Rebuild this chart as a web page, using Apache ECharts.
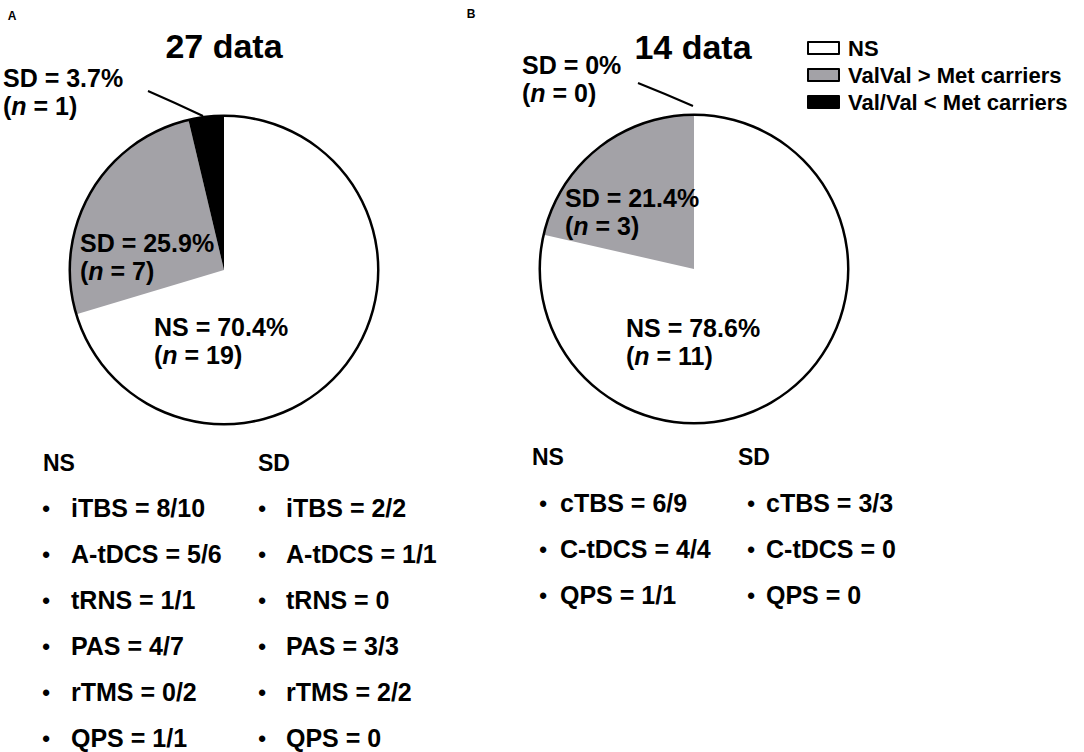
<!DOCTYPE html>
<html>
<head>
<meta charset="utf-8">
<script src="https://cdn.jsdelivr.net/npm/echarts@6/dist/echarts.min.js"></script>
<style>
  html, body { margin: 0; padding: 0; background: #fff; }
  #main { width: 1084px; height: 752px; }
</style>
</head>
<body>
<div id="main"></div>
<script>
// slices (same order in both pies, drawn clockwise from 12 o'clock)
var sliceNames = ['NS', 'ValVal > Met carriers', 'Val/Val < Met carriers'];
var sliceColors = ['#ffffff', '#a3a2a7', '#000000'];
var labelPrefix = ['NS', 'SD', 'SD'];

// panel A / B counts
var countsA = [19, 7, 1];
var countsB = [11, 3, 0];
var titles = ['27 data', '14 data'];
var panelLetters = ['A', 'B'];

// text lists under the pies
var listHeads = ['NS', 'SD'];
var listA_ns = ['iTBS = 8/10', 'A-tDCS = 5/6', 'tRNS = 1/1', 'PAS = 4/7', 'rTMS = 0/2', 'QPS = 1/1'];
var listA_sd = ['iTBS = 2/2', 'A-tDCS = 1/1', 'tRNS = 0', 'PAS = 3/3', 'rTMS = 2/2', 'QPS = 0'];
var listB_ns = ['cTBS = 6/9', 'C-tDCS = 4/4', 'QPS = 1/1'];
var listB_sd = ['cTBS = 3/3', 'C-tDCS = 0', 'QPS = 0'];

var FONT = '"Liberation Sans", Arial, sans-serif';

// where the labels sit (left x, middle y) per slice, and leader lines
var labelSpots = [
  [[154, 341], [80, 257], [3, 92]],
  [[626, 342], [565, 212], [522, 79]]
];
var leaderLines = [
  [[203, 116], [175, 103], [148, 91]],
  [[693, 106], [665, 94], [638, 83]]
];

var pieCenters = [[224, 270], [694, 269]];
var pieRadius = 154;

function makeData(counts) {
  var out = [];
  for (var i = 0; i < counts.length; i++) {
    var item = {
      name: sliceNames[i],
      value: counts[i],
      itemStyle: { color: sliceColors[i] }
    };
    if (i == 2) {
      item.label = { position: 'outside' };
      item.labelLine = { show: true };
    }
    out.push(item);
  }
  return out;
}

function pieSeries(idx, counts) {
  return {
    type: 'pie',
    center: pieCenters[idx],
    radius: [0, pieRadius],
    startAngle: 90,
    clockwise: true,
    avoidLabelOverlap: false,
    percentPrecision: 1,
    silent: true,
    itemStyle: { borderWidth: 0 },
    label: {
      show: true,
      position: 'inside',
      color: '#000',
      formatter: function (p) {
        return '{b|' + labelPrefix[p.dataIndex] + ' = ' + p.percent + '%}\n' +
               '{b|(}{i|n}{b| = ' + p.value + ')}';
      },
      rich: {
        b: { fontFamily: FONT, fontWeight: 'bold', fontSize: 25, lineHeight: 28, color: '#000' },
        i: { fontFamily: FONT, fontWeight: 'bold', fontStyle: 'italic', fontSize: 25, lineHeight: 28, color: '#000' }
      }
    },
    labelLine: {
      show: false,
      lineStyle: { color: '#000', width: 2 }
    },
    labelLayout: function (params) {
      var spot = labelSpots[idx][params.dataIndex];
      var res = { x: spot[0], y: spot[1], align: 'left', verticalAlign: 'middle' };
      if (params.dataIndex == 2) {
        res.labelLinePoints = leaderLines[idx];
      }
      return res;
    },
    data: makeData(counts)
  };
}

// black outline round each pie
function outlineSeries(idx) {
  return {
    type: 'pie',
    center: pieCenters[idx],
    radius: [pieRadius - 1, pieRadius + 1.5],
    silent: true,
    label: { show: false },
    labelLine: { show: false },
    itemStyle: { color: '#000' },
    data: [{ value: 1, name: 'outline' }]
  };
}

function listGraphics(x0, heads, colNs, colSd, headY, rowY, bulletDx, textDx, sdDx) {
  var els = [];
  var cols = [colNs, colSd];
  for (var c = 0; c < 2; c++) {
    var hx = x0 + c * sdDx;
    els.push({
      type: 'text',
      style: { text: heads[c], x: hx, y: headY, fill: '#000', font: 'bold 23px ' + FONT, verticalAlign: 'middle' }
    });
    for (var r = 0; r < cols[c].length; r++) {
      var y = rowY + r * 46;
      els.push({
        type: 'text',
        style: { text: '\u2022', x: hx + bulletDx[c], y: y, fill: '#000', font: 'bold 22px ' + FONT, align: 'center', verticalAlign: 'middle' }
      });
      els.push({
        type: 'text',
        style: { text: cols[c][r], x: hx + textDx, y: y, fill: '#000', font: 'bold 25px ' + FONT, verticalAlign: 'middle' }
      });
    }
  }
  return els;
}

var graphics = [];
graphics.push({ type: 'text', style: { text: panelLetters[0], x: 12, y: 16, fill: '#000', font: 'bold 12px ' + FONT, align: 'center', verticalAlign: 'middle' } });
graphics.push({ type: 'text', style: { text: panelLetters[1], x: 471, y: 14, fill: '#000', font: 'bold 12px ' + FONT, align: 'center', verticalAlign: 'middle' } });
graphics = graphics.concat(listGraphics(43, listHeads, listA_ns, listA_sd, 463, 508, [3, 4], 28, 215));
graphics = graphics.concat(listGraphics(532, listHeads, listB_ns, listB_sd, 457, 503, [11, 13], 28, 206));

var myChart = echarts.init(document.getElementById('main'), null, { renderer: 'svg' });

var option = {
  backgroundColor: '#fff',
  animation: false,
  title: [
    { text: titles[0], left: 219, top: 24, textAlign: 'center',
      textStyle: { fontFamily: FONT, fontWeight: 'bold', fontSize: 34, color: '#000' } },
    { text: titles[1], left: 688, top: 25, textAlign: 'center',
      textStyle: { fontFamily: FONT, fontWeight: 'bold', fontSize: 34, color: '#000' } }
  ],
  legend: {
    orient: 'vertical',
    left: 802,
    top: 32,
    itemWidth: 31,
    itemHeight: 12,
    itemGap: 5,
    selectedMode: false,
    icon: 'rect',
    textStyle: { fontFamily: FONT, fontWeight: 'bold', fontSize: 22, color: '#000', padding: [0, 0, 0, 4] },
    data: [
      { name: sliceNames[0], itemStyle: { color: sliceColors[0], borderColor: '#000', borderWidth: 2 } },
      { name: sliceNames[1], itemStyle: { color: sliceColors[1], borderColor: '#000', borderWidth: 2 } },
      { name: sliceNames[2], itemStyle: { color: sliceColors[2], borderColor: '#000', borderWidth: 2 } }
    ]
  },
  graphic: graphics,
  series: [
    pieSeries(0, countsA),
    outlineSeries(0),
    pieSeries(1, countsB),
    outlineSeries(1)
  ]
};

myChart.setOption(option);
</script>
</body>
</html>
